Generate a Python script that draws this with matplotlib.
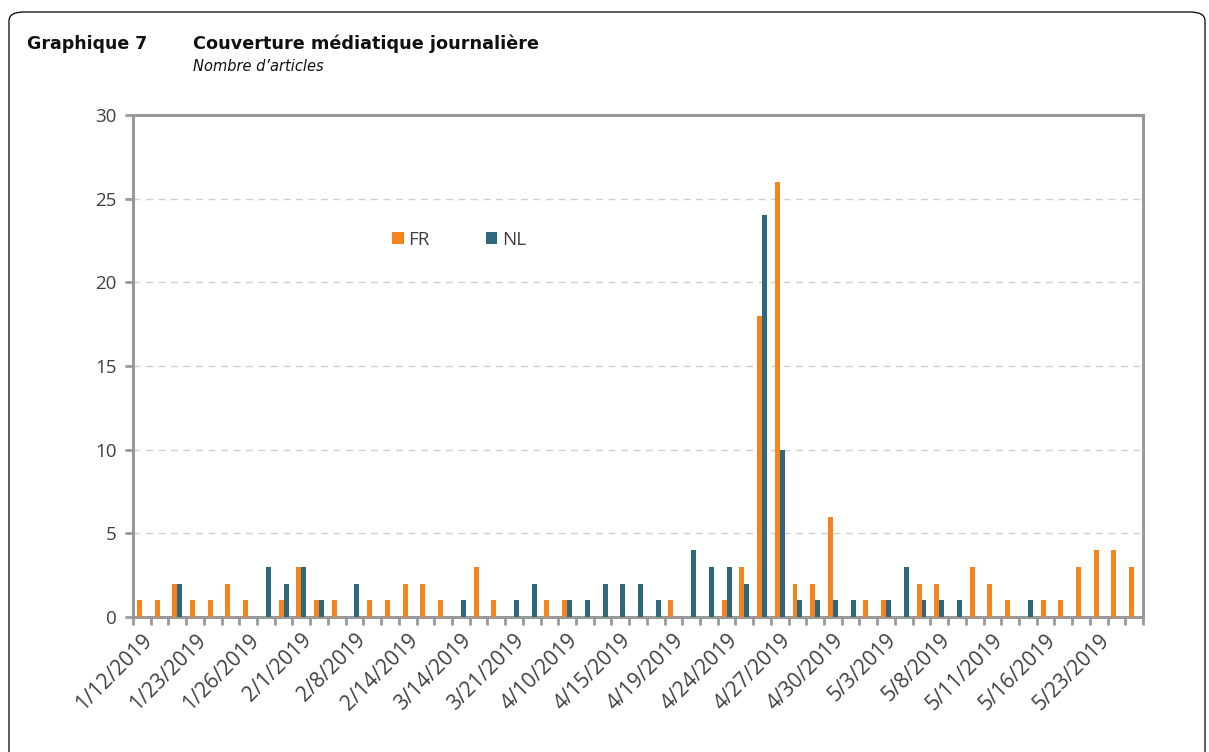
import matplotlib
matplotlib.use("Agg")
import matplotlib.pyplot as plt
import numpy as np
from matplotlib.patches import FancyBboxPatch

# daily article counts, 57 days with coverage (labels shown every 3rd day)
fr = [1, 1, 2, 1, 1, 2, 1, 0, 1, 3, 1, 1, 0, 1, 1, 2, 2, 1, 0, 3,
      1, 0, 0, 1, 1, 0, 0, 0, 0, 0, 1, 0, 0, 1, 3, 18, 26, 2, 2, 6,
      0, 1, 1, 0, 2, 2, 0, 3, 2, 1, 0, 1, 1, 3, 4, 4, 3]
nl = [0, 0, 2, 0, 0, 0, 0, 3, 2, 3, 1, 0, 2, 0, 0, 0, 0, 0, 1, 0,
      0, 1, 2, 0, 1, 1, 2, 2, 2, 1, 0, 4, 3, 3, 2, 24, 10, 1, 1, 1,
      1, 0, 1, 3, 1, 1, 1, 0, 0, 0, 1, 0, 0, 0, 0, 0, 0]
tick_labels = ["1/12/2019", "1/23/2019", "1/26/2019", "2/1/2019", "2/8/2019",
               "2/14/2019", "3/14/2019", "3/21/2019", "4/10/2019", "4/15/2019",
               "4/19/2019", "4/24/2019", "4/27/2019", "4/30/2019", "5/3/2019",
               "5/8/2019", "5/11/2019", "5/16/2019", "5/23/2019"]
label_step = 3

ORANGE = "#F5841F"
BLUE = "#2E687D"
GRID = "#999999"
TXT = "#404040"

W, H, DPI = 1209, 752, 100
fig = plt.figure(figsize=(W / DPI, H / DPI), dpi=DPI)

# outer rounded frame (bottom runs off the picture)
fig.patches.append(FancyBboxPatch((9 / W, -1.0), 1196 / W, (H - 12) / H + 1.0,
                                  boxstyle="round,pad=0,rounding_size=0.012",
                                  transform=fig.transFigure, fill=False,
                                  ec="black", lw=0.9))

fig.text(27 / W, 1 - 49 / H, "Graphique 7", fontsize=12.5, fontweight="bold", color="#111111")
fig.text(193 / W, 1 - 49 / H, "Couverture médiatique journalière", fontsize=12.7,
         fontweight="bold", color="#111111")
fig.text(193 / W, 1 - 71 / H, "Nombre d\u2019articles", fontsize=10.5, style="italic", color="#111111")

ax = fig.add_axes([133 / W, 1 - 617 / H, 1010 / W, 502 / H])
x = np.arange(len(fr))
w = 0.28
ax.bar(x - w / 2, fr, w, color=ORANGE, lw=0, label="FR", zorder=3)
ax.bar(x + w / 2, nl, w, color=BLUE, lw=0, label="NL", zorder=3)

ax.set_xlim(-0.5, len(fr) - 0.5)
ax.set_ylim(0, 30)
ax.set_yticks(range(0, 31, 5))
for v in range(5, 30, 5):
    ax.axhline(v, color="#d0d0d0", lw=1, ls=(0, (5, 4)), zorder=1)

for s in ax.spines.values():
    s.set_color(GRID)
    s.set_linewidth(2.2)

ax.set_xticks(x[::label_step])
ax.set_xticklabels(tick_labels, rotation=45, ha="right", rotation_mode="anchor",
                   fontsize=15, color=TXT, family="Open Sans")
ax.set_xticks(np.arange(-0.5, len(fr)), minor=True)
ax.tick_params(axis="x", which="major", length=0, pad=9)
ax.tick_params(axis="x", which="minor", length=6, width=2, color=GRID, direction="out")
ax.tick_params(axis="y", length=6, width=2, color=GRID, labelsize=13.5, labelcolor=TXT, pad=6)
for t in ax.get_yticklabels():
    t.set_family("Open Sans")

leg = ax.legend(loc="center left", bbox_to_anchor=(0.24, 0.751), ncol=2, frameon=False,
                handlelength=0.6, handleheight=0.6, handletextpad=0.25, columnspacing=3.0,
                prop={"family": "Open Sans", "size": 13.5})
for t in leg.get_texts():
    t.set_color(TXT)

fig.savefig("out.png", dpi=DPI)
